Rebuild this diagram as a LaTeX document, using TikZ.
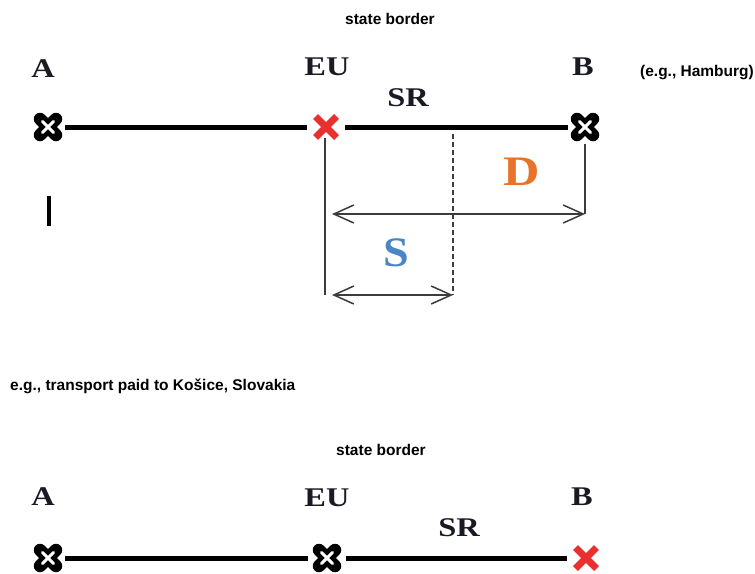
\documentclass[tikz,border=0pt]{standalone}
\usepackage{fontspec}
\usepackage{graphicx}
\setmainfont{Liberation Serif}
\newfontfamily\lsans{Liberation Sans}
\usetikzlibrary{arrows.meta}
\definecolor{xred}{HTML}{E8302E}
\definecolor{dorange}{HTML}{E8732A}
\definecolor{sblue}{HTML}{4A85C6}
\definecolor{conncol}{HTML}{3C3C3C}
\definecolor{labcol}{HTML}{1A1A24}
\newcommand\wide[2][1.2]{\scalebox{#1}[1]{#2}}
\newcommand\blackmark[1]{%
  \draw[black,line width=12.5pt,line cap=round]
    ([shift={(-8pt,-8pt)}]#1.center) -- ([shift={(8pt,8pt)}]#1.center)
    ([shift={(-8pt,8pt)}]#1.center) -- ([shift={(8pt,-8pt)}]#1.center);
  \draw[white,line width=3pt,line cap=round]
    ([shift={(-5.5pt,-5.5pt)}]#1.center) -- ([shift={(5.5pt,5.5pt)}]#1.center)
    ([shift={(-5.5pt,5.5pt)}]#1.center) -- ([shift={(5.5pt,-5.5pt)}]#1.center);}
\newcommand\redmark[1]{%
  \draw[xred,line width=7pt,line cap=butt]
    ([shift={(-10.5pt,-10.5pt)}]#1.center) -- ([shift={(10.5pt,10.5pt)}]#1.center)
    ([shift={(-10.5pt,10.5pt)}]#1.center) -- ([shift={(10.5pt,-10.5pt)}]#1.center);}
\tikzset{
  lab/.style={font=\fontsize{27}{30}\selectfont\bfseries, text=labcol, inner sep=0pt},
  biglab/.style={font=\fontsize{42}{46}\selectfont\bfseries, inner sep=0pt},
  sanslab/.style={font=\lsans\fontsize{15.5}{18}\selectfont\bfseries, inner sep=0pt},
  bmark/.style={shape=rectangle, minimum size=34pt, inner sep=0pt},
  bmarkwide/.style={shape=rectangle, minimum size=38pt, inner sep=0pt},
  rmark/.style={shape=rectangle, minimum size=38pt, inner sep=0pt},
  mainline/.style={line width=5pt, black},
  connline/.style={draw=conncol, line width=1.5pt},
  dashline/.style={connline, dash pattern=on 5pt off 3pt},
  dimarrow/.style={connline, {Straight Barb[length=20pt,width=18pt]}-{Straight Barb[length=20pt,width=18pt]}}
}
\begin{document}
\begin{tikzpicture}[x=1pt,y=-1pt]
\useasboundingbox[fill=white] (0,0) rectangle (755,573);

% ---------- top diagram ----------
\node[sanslab] (sb1) at (390,19) {state border};
\node[lab] (A1) at (43,69) {\wide{A}};
\node[lab] (EU1) at (327,67) {\wide{EU}};
\node[lab] (B1) at (583,67) {\wide{B}};
\node[sanslab] (ham) at (697,73) {(e.g., Hamburg)};
\node[lab] (SR1) at (408,98) {\wide{SR}};

\node[bmark] (a1) at (48,127) {};
\node[rmark] (eu1) at (326,127) {};
\node[bmark] (b1) at (585,127) {};

\draw[mainline] (a1) -- (eu1);
\draw[mainline] (eu1) -- (b1);
\blackmark{a1}
\redmark{eu1}
\blackmark{b1}

\coordinate (etop) at (325,138);
\coordinate (ebot) at (325,295);
\coordinate (dtop) at (453,134);
\coordinate (dbot) at (453,295);
\coordinate (bd) at (585,214);
\coordinate (dl) at (332,214);
\coordinate (sl) at (332,295);

\draw[connline] (etop) -- (ebot);
\draw[connline] (b1.south) -- (bd);
\draw[dashline] (dtop) -- (dbot);
\draw[dimarrow] (dl) -- (bd);
\draw[dimarrow] (sl) -- (dbot);

\node[biglab, text=dorange] (D) at (522,172) {\wide{D}};
\node[biglab, text=sblue] (S) at (396,253) {\wide[1.1]{S}};

\coordinate (bar1) at (49,196);
\coordinate (bar2) at (49,226);
\draw[black, line width=4pt] (bar1) -- (bar2);

\node[sanslab, anchor=west] (eg) at (10,386) {e.g., transport paid to Košice, Slovakia};

% ---------- bottom diagram ----------
\node[sanslab] (sb2) at (381,450) {state border};
\node[lab] (A2) at (43,497) {\wide{A}};
\node[lab] (EU2) at (327,498) {\wide{EU}};
\node[lab] (B2) at (582,497) {\wide{B}};
\node[lab] (SR2) at (459,528) {\wide{SR}};

\node[bmark] (a2) at (48,558) {};
\node[bmarkwide] (eu2) at (327,558) {};
\node[rmark] (b2) at (586,558) {};

\draw[mainline] (a2) -- (eu2);
\draw[mainline] (eu2) -- (b2);
\blackmark{a2}
\blackmark{eu2}
\redmark{b2}
\end{tikzpicture}
\end{document}
